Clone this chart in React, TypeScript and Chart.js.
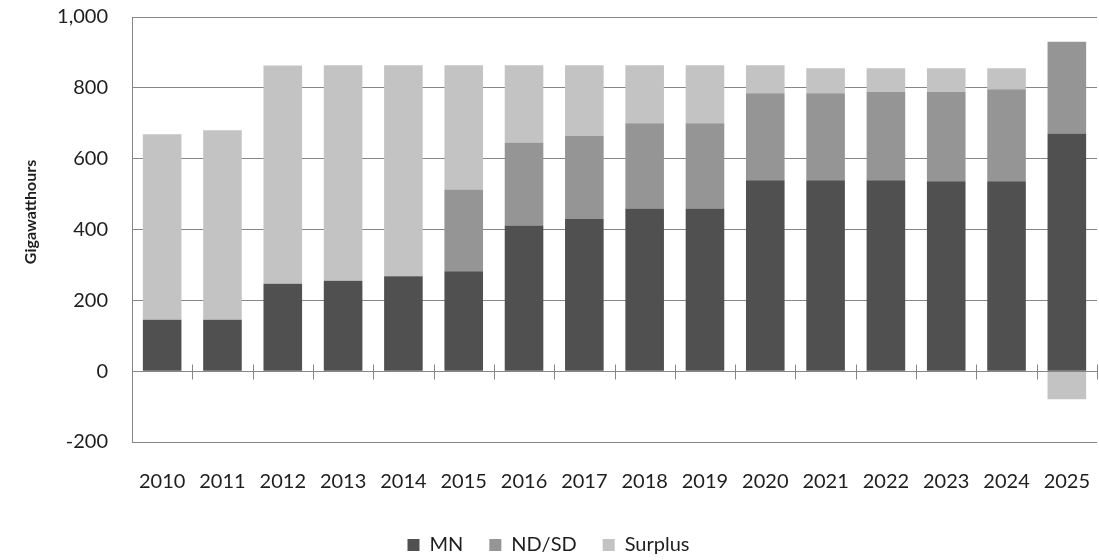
import { useEffect, useRef } from "react";
import { Chart, registerables } from "chart.js";

Chart.register(...registerables);

const years = ["2010", "2011", "2012", "2013", "2014", "2015", "2016", "2017", "2018", "2019", "2020", "2021", "2022", "2023", "2024", "2025"];
const mn = [145, 145, 247, 255, 268, 282, 411, 430, 459, 459, 539, 539, 539, 536, 536, 671];
const ndsd = [0, 0, 0, 0, 0, 231, 235, 235, 241, 241, 246, 246, 250, 253, 260, 259];
const surplus = [524, 535, 616, 609, 596, 351, 218, 199, 164, 164, 79, 70, 66, 66, 59, -79];
const yMin = -200;
const yMax = 1000;
const yStep = 200;
const yTitle = "Gigawatthours";

const FONT = "Lato";
const TEXT = "#1e1e1e";
const GRID = "#868686";

const zeroAxisPlugin = {
  id: "zeroAxis",
  afterDatasetsDraw(chart: any) {
    const { ctx, scales, chartArea } = chart;
    const x = scales.x;
    const y = scales.y;
    const y0 = Math.round(y.getPixelForValue(0)) + 0.5;
    ctx.save();
    ctx.strokeStyle = GRID;
    ctx.lineWidth = 1;
    ctx.beginPath();
    ctx.moveTo(chartArea.left, y0);
    ctx.lineTo(chartArea.right, y0);
    for (let i = 0; i <= years.length; i++) {
      const px = Math.round(x.getPixelForValue(i - 0.5)) + 0.5;
      ctx.moveTo(px, y0 - 7);
      ctx.lineTo(px, y0 + 8);
    }
    ctx.stroke();
    ctx.restore();
  },
};

const yTitlePlugin = {
  id: "yTitleCustom",
  afterDraw(chart: any, _args: any, opts: any) {
    const { ctx } = chart;
    ctx.save();
    ctx.translate(opts.x, opts.y);
    ctx.rotate(-Math.PI / 2);
    ctx.font = `bold ${opts.size}px ${FONT}`;
    ctx.fillStyle = TEXT;
    ctx.textAlign = "center";
    ctx.textBaseline = "middle";
    ctx.fillText(opts.text, 0, 0);
    ctx.restore();
  },
};

export default function App() {
  const ref = useRef<HTMLCanvasElement | null>(null);

  useEffect(() => {
    if (!ref.current) return;
    const chart = new Chart(ref.current, {
      type: "bar",
      data: {
        labels: years,
        datasets: [
          { label: "MN", data: mn, backgroundColor: "#505050", borderWidth: 0 },
          { label: "ND/SD", data: ndsd, backgroundColor: "#959595", borderWidth: 0 },
          { label: "Surplus", data: surplus, backgroundColor: "#c3c3c3", borderWidth: 0 },
        ],
      },
      plugins: [zeroAxisPlugin, yTitlePlugin],
      options: {
        animation: false,
        responsive: false,
        maintainAspectRatio: false,
        layout: { padding: { top: 17, right: 2, left: 0, bottom: 0 } },
        datasets: {
          bar: { barPercentage: 0.64, categoryPercentage: 1 },
        },
        scales: {
          x: {
            stacked: true,
            grid: { display: false },
            border: { display: false },
            ticks: {
              color: TEXT,
              font: { family: FONT, size: 20 },
              padding: 20,
              maxRotation: 0,
              autoSkip: false,
            },
            afterFit: (scale: any) => {
              scale.height = 67;
              scale.paddingLeft = 0;
              scale.paddingRight = 0;
            },
          },
          y: {
            stacked: true,
            min: yMin,
            max: yMax,
            ticks: {
              stepSize: yStep,
              color: TEXT,
              font: { family: FONT, size: 20 },
              padding: 24,
              callback: (v: any) => Number(v).toLocaleString("en-US"),
            },
            grid: { color: GRID, lineWidth: 1, drawTicks: false },
            border: { display: true, color: GRID, width: 1 },
            afterFit: (scale: any) => {
              scale.width = 132;
              scale.paddingTop = 10;
              scale.paddingBottom = 10;
            },
          },
        },
        plugins: {
          legend: {
            position: "bottom",
            labels: {
              color: TEXT,
              font: { family: FONT, size: 20 },
              boxWidth: 12,
              boxHeight: 12,
              padding: 26,
            },
          },
          tooltip: { enabled: false },
          yTitleCustom: { x: 31, y: 212, text: yTitle, size: 16 },
        } as any,
      },
    });
    return () => chart.destroy();
  }, []);

  return (
    <div style={{ position: "fixed", left: 0, top: 0, width: 1099, height: 565, background: "#fff" }}>
      <canvas ref={ref} width={1099} height={565} style={{ width: 1099, height: 565, display: "block" }} />
    </div>
  );
}
